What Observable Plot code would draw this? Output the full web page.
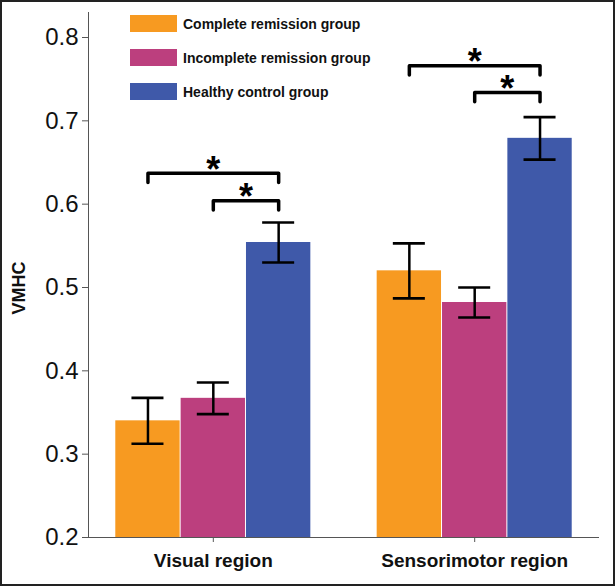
<!DOCTYPE html>
<html>
<head>
<meta charset="utf-8">
<script src="https://cdn.jsdelivr.net/npm/d3@7"></script>
<script src="https://cdn.jsdelivr.net/npm/@observablehq/plot@0.6"></script>
<style>
  html, body { margin: 0; padding: 0; background: #fff; }
  #wrap { position: relative; width: 615px; height: 586px; overflow: hidden; font-family: "Liberation Sans", Arial, sans-serif; }
  #wrap svg { position: absolute; left: 0; top: 0; }
  #border { position: absolute; left: 0; top: 0; width: 615px; height: 586px; box-sizing: border-box; border: 2px solid #222; pointer-events: none; }
  #legend { position: absolute; left: 130px; top: 15px; }
  .row { display: flex; align-items: center; height: 17px; margin-bottom: 17px; }
  .sw { width: 47px; height: 17px; margin-right: 6px; }
  .lab { font-weight: bold; font-size: 14px; color: #111; white-space: nowrap; }
  #ylab { position: absolute; left: 19px; top: 288px; transform: translate(-50%, -50%) rotate(-90deg); font-weight: bold; font-size: 18px; color: #111; white-space: nowrap; }
  g[aria-label^="x-axis"] text { font-weight: bold !important; font-size: 19px !important; fill: #111 !important; }
  g[aria-label^="y-axis"] text { font-size: 24px !important; fill: #111 !important; }
</style>
</head>
<body>
<div id="wrap"></div>
<script>
// ---- data ----
const regions = ["Visual region", "Sensorimotor region"];
const groups = ["Complete remission group", "Incomplete remission group", "Healthy control group"];
const visualMean = [0.340, 0.367, 0.554];
const visualErr = [0.0275, 0.019, 0.024];
const sensorimotorMean = [0.520, 0.482, 0.679];
const sensorimotorErr = [0.033, 0.018, 0.0255];
const colors = ["#F79A21", "#BC3F7E", "#3F59A9"];
const yTicks = [0.2, 0.3, 0.4, 0.5, 0.6, 0.7, 0.8];
const yAxisTop = 0.83;
// significance brackets
const bracketRegion = [0, 0, 1, 1];
const bracketFrom = [0, 1, 0, 1];
const bracketTo = [2, 2, 2, 2];
const bracketY = [0.637, 0.604, 0.766, 0.734];
const bracketLabel = ["*", "*", "*", "*"];

// ---- build table ----
const means = [visualMean, sensorimotorMean];
const errs = [visualErr, sensorimotorErr];
const slot = groups.length + 1; // one empty slot between regions
const rows = [];
regions.forEach((r, ri) => groups.forEach((g, gi) => rows.push({
  region: r, group: g, pos: ri * slot + gi, mean: means[ri][gi], err: errs[ri][gi]
})));
const tickPos = regions.map((r, ri) => ri * slot + (groups.length - 1) / 2);
const lastPos = (regions.length - 1) * slot + groups.length - 1;
const outerPad = 0.41;
const capHalf = 0.245;
const drop = 0.011;
const baseline = yTicks[0];

const brackets = bracketY.map((y, i) => ({
  id: i, y,
  from: bracketRegion[i] * slot + bracketFrom[i],
  to: bracketRegion[i] * slot + bracketTo[i],
  label: bracketLabel[i]
}));
const bracketPts = brackets.flatMap(b => [
  {id: b.id, x: b.from, y: b.y - drop},
  {id: b.id, x: b.from, y: b.y},
  {id: b.id, x: b.to, y: b.y},
  {id: b.id, x: b.to, y: b.y - drop}
]);

const chart = Plot.plot({
  width: 615, height: 586,
  marginLeft: 88, marginRight: 16, marginTop: 12, marginBottom: 49,
  style: {fontFamily: "'Liberation Sans', Arial, sans-serif", fontSize: "24px", color: "#555", background: "transparent"},
  x: {domain: [-0.5 - outerPad, lastPos + 0.5 + outerPad], ticks: tickPos,
      tickFormat: p => regions[Math.round((p - tickPos[0]) / slot)], tickSize: 5, tickPadding: 11, label: null},
  y: {domain: [baseline, yAxisTop], ticks: yTicks, tickFormat: d => d.toFixed(1), tickSize: 6, tickPadding: 4, label: null, line: true},
  color: {domain: groups, range: colors},
  marks: [
    Plot.rectY(rows, {x1: d => d.pos - 0.5, x2: d => d.pos + 0.5, y1: () => baseline, y2: "mean", fill: "group", insetLeft: 0.5, insetRight: 0.5}),
    Plot.ruleY([baseline], {stroke: "#555", strokeWidth: 1.2}),
    Plot.ruleX(rows, {x: "pos", y1: d => d.mean - d.err, y2: d => d.mean + d.err, stroke: "#000", strokeWidth: 2.5}),
    Plot.ruleY(rows, {y: d => d.mean + d.err, x1: d => d.pos - capHalf, x2: d => d.pos + capHalf, stroke: "#000", strokeWidth: 2.6}),
    Plot.ruleY(rows, {y: d => d.mean - d.err, x1: d => d.pos - capHalf, x2: d => d.pos + capHalf, stroke: "#000", strokeWidth: 2.6}),
    Plot.line(bracketPts, {x: "x", y: "y", z: "id", stroke: "#000", strokeWidth: 3.5, strokeLinejoin: "round", strokeLinecap: "round"}),
    Plot.text(brackets, {x: d => (d.from + d.to) / 2, y: "y", text: "label", fontSize: 36, fontWeight: "bold", fill: "#000", dy: -3})
  ]
});

const wrap = document.getElementById("wrap");
wrap.appendChild(chart);

// legend
const legend = document.createElement("div");
legend.id = "legend";
groups.forEach((g, i) => {
  const row = document.createElement("div");
  row.className = "row";
  const sw = document.createElement("div");
  sw.className = "sw";
  sw.style.background = colors[i];
  const lab = document.createElement("div");
  lab.className = "lab";
  lab.textContent = g;
  row.appendChild(sw); row.appendChild(lab);
  legend.appendChild(row);
});
wrap.appendChild(legend);

const ylab = document.createElement("div");
ylab.id = "ylab";
ylab.textContent = "VMHC";
wrap.appendChild(ylab);

const border = document.createElement("div");
border.id = "border";
wrap.appendChild(border);
</script>
</body>
</html>
